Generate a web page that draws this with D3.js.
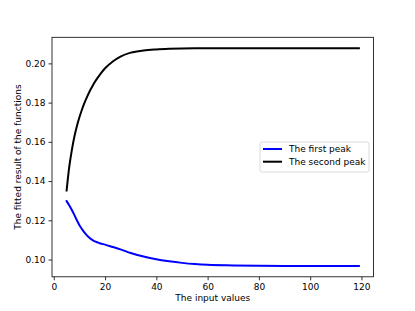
<!DOCTYPE html>
<html>
<head>
<meta charset="utf-8">
<script src="https://cdn.jsdelivr.net/npm/d3@7"></script>
<style>
  body { margin: 0; background: #fff; }
  svg { font-family: "DejaVu Sans", sans-serif; }
</style>
</head>
<body>
<svg id="chart" width="415" height="311"></svg>
<script>
// input values (x) for both curves
var inputs = [5, 6, 7, 8, 9, 10, 11, 12, 13, 14, 15, 16, 17, 18, 20, 23, 26, 30, 35, 40, 45, 50, 55, 60, 70, 80, 90, 100, 110, 119];
var firstPeak = [0.1298, 0.1277, 0.1254, 0.1228, 0.1200, 0.1175, 0.1155, 0.1137, 0.1122, 0.1110, 0.1100, 0.1093, 0.1088, 0.1083, 0.1076, 0.1064, 0.1052, 0.1033, 0.1015, 0.1001, 0.0991, 0.0983, 0.0977, 0.0973, 0.0970, 0.0968, 0.0967, 0.0967, 0.0967, 0.0967];
var secondPeak = [0.1352, 0.1470, 0.1555, 0.1625, 0.1680, 0.1725, 0.1765, 0.1800, 0.1830, 0.1858, 0.1882, 0.1905, 0.1925, 0.1943, 0.1975, 0.2010, 0.2035, 0.2055, 0.2066, 0.2071, 0.2074, 0.2076, 0.2077, 0.2077, 0.2077, 0.2077, 0.2077, 0.2077, 0.2077, 0.2077];
var seriesNames = ["The first peak", "The second peak"];
var seriesColors = ["#0000ff", "#000000"];
var xTicks = [0, 20, 40, 60, 80, 100, 120];
var yTicks = [0.10, 0.12, 0.14, 0.16, 0.18, 0.20];

var svg = d3.select("#chart"),
    margin = {left: 52, right: 41.5, top: 37.3, bottom: 34.2},
    width = +svg.attr("width") - margin.left - margin.right,
    height = +svg.attr("height") - margin.top - margin.bottom,
    g = svg.append("g").attr("transform", "translate(" + margin.left + "," + margin.top + ")");

var x = d3.scaleLinear().domain([-0.7, 124.7]).range([0, width]);
var y = d3.scaleLinear().domain([0.0912, 0.2133]).range([height, 0]);

var xAxis = g.append("g")
    .attr("transform", "translate(0," + height + ")")
    .call(d3.axisBottom(x).tickValues(xTicks).tickSize(3.5).tickPadding(3).tickFormat(d3.format("d")));
var yAxis = g.append("g")
    .call(d3.axisLeft(y).tickValues(yTicks).tickSize(3.5).tickPadding(3).tickFormat(d3.format(".2f")));

[xAxis, yAxis].forEach(function(a) {
    a.select(".domain").remove();
    a.selectAll("text").attr("font-size", 9).attr("font-family", "DejaVu Sans").attr("fill", "#000");
    a.selectAll("line").attr("stroke", "#000").attr("stroke-width", 0.8);
});

var series = [firstPeak, secondPeak];
var line = d3.line()
    .x(function(d, i) { return x(inputs[i]); })
    .y(function(d) { return y(d); })
    .curve(d3.curveMonotoneX);

series.forEach(function(s, k) {
    g.append("path")
        .datum(s)
        .attr("d", line)
        .attr("fill", "none")
        .attr("stroke", seriesColors[k])
        .attr("stroke-width", 2)
        .attr("stroke-linejoin", "round")
        .attr("stroke-linecap", "square");
});

// frame
g.append("rect")
    .attr("width", width)
    .attr("height", height)
    .attr("fill", "none")
    .attr("stroke", "#000")
    .attr("stroke-width", 0.8);

// legend
var legend = svg.append("g").attr("transform", "translate(260,142)");
legend.append("rect")
    .attr("width", 109)
    .attr("height", 30)
    .attr("rx", 2)
    .attr("fill", "#fff")
    .attr("stroke", "#d0d0d0")
    .attr("stroke-width", 0.8);
seriesNames.forEach(function(name, k) {
    var ly = 7 + k * 12.7;
    legend.append("line")
        .attr("x1", 3).attr("x2", 22)
        .attr("y1", ly).attr("y2", ly)
        .attr("stroke", seriesColors[k])
        .attr("stroke-width", 2);
    legend.append("text")
        .attr("x", 29).attr("y", ly)
        .attr("dy", "0.35em")
        .attr("font-size", 9)
        .text(name);
});

// axis titles
svg.append("text")
    .attr("x", margin.left + width / 2)
    .attr("y", 301)
    .attr("text-anchor", "middle")
    .attr("font-size", 9)
    .text("The input values");
svg.append("text")
    .attr("transform", "translate(20.5," + (margin.top + height / 2) + ") rotate(-90)")
    .attr("text-anchor", "middle")
    .attr("font-size", 9)
    .text("The fitted result of the functions");
</script>
</body>
</html>
